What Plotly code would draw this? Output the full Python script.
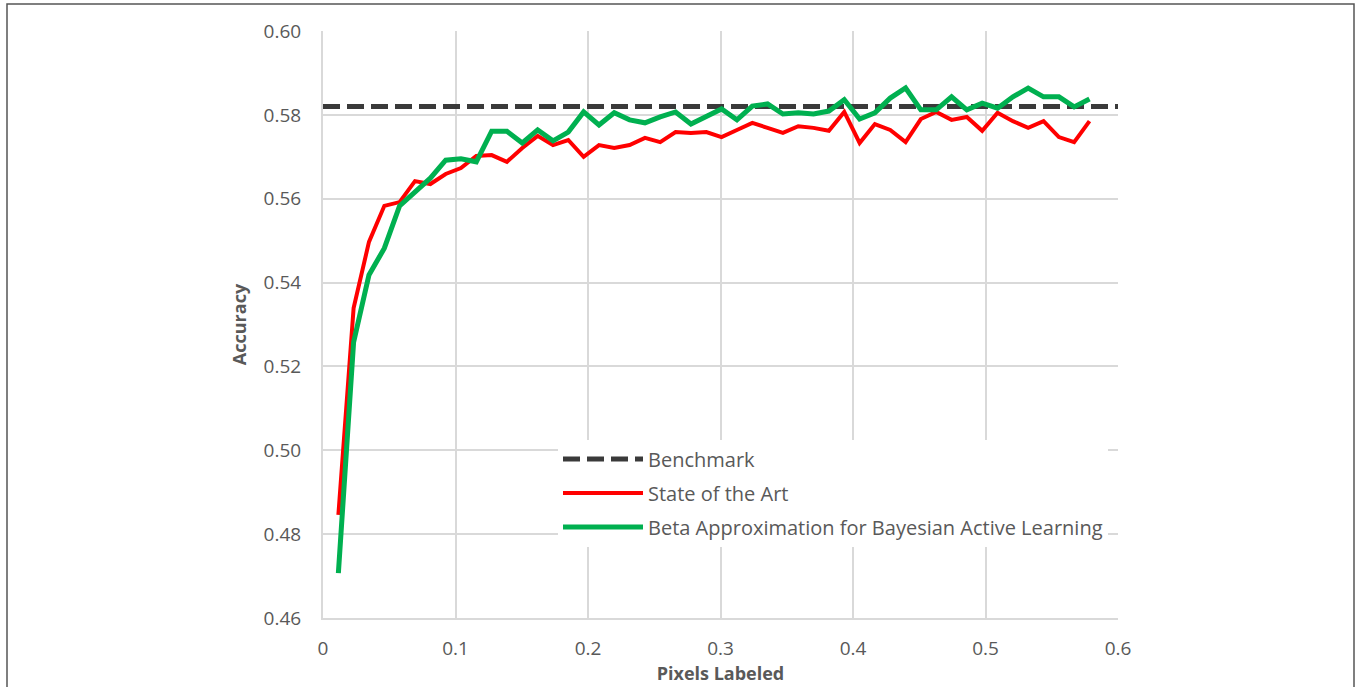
import plotly.graph_objects as go

# fraction of pixels labeled at each active-learning round
pixels_labeled = [round(0.01157 * k, 4) for k in range(1, 51)]

state_of_art = [
    0.4846, 0.5339, 0.5497, 0.5583, 0.5592, 0.5642, 0.5635, 0.5659, 0.5673, 0.5702,
    0.5704, 0.5688, 0.5721, 0.5750, 0.5728, 0.5740, 0.5700, 0.5728, 0.5721, 0.5728,
    0.5745, 0.5735, 0.5759, 0.5757, 0.5759, 0.5747, 0.5764, 0.5781, 0.5769, 0.5757,
    0.5773, 0.5769, 0.5762, 0.5807, 0.5733, 0.5778, 0.5764, 0.5735, 0.5790, 0.5807,
    0.5788, 0.5795, 0.5762, 0.5805, 0.5785, 0.5769, 0.5785, 0.5747, 0.5735, 0.5785,
]

beta_approx = [
    0.4707, 0.5258, 0.5418, 0.5482, 0.5583, 0.5618, 0.5649, 0.5692, 0.5695, 0.5688,
    0.5761, 0.5761, 0.5733, 0.5764, 0.5738, 0.5759, 0.5807, 0.5776, 0.5805, 0.5788,
    0.5781, 0.5795, 0.5807, 0.5778, 0.5795, 0.5814, 0.5788, 0.5821, 0.5826, 0.5802,
    0.5805, 0.5802, 0.5809, 0.5836, 0.5790, 0.5805, 0.5840, 0.5864, 0.5812, 0.5812,
    0.5843, 0.5812, 0.5828, 0.5816, 0.5843, 0.5864, 0.5843, 0.5843, 0.5819, 0.5838,
]

benchmark_x = [0.0, 0.6]
benchmark_y = [0.582, 0.582]

x_ticks = [0, 0.1, 0.2, 0.3, 0.4, 0.5, 0.6]
x_tick_labels = ["0", "0.1", "0.2", "0.3", "0.4", "0.5", "0.6"]
y_ticks = [0.46, 0.48, 0.50, 0.52, 0.54, 0.56, 0.58, 0.60]
y_tick_labels = ["0.46", "0.48", "0.50", "0.52", "0.54", "0.56", "0.58", "0.60"]

FONT = "Open Sans"
TEXT = "#595959"
GRID = "#d9d9d9"

fig = go.Figure()
fig.add_trace(go.Scatter(
    x=benchmark_x, y=benchmark_y, mode="lines", name="Benchmark",
    legendgroup="a",
    line=dict(color="#3a3a3a", width=5, dash="17px,7px"),
))
fig.add_trace(go.Scatter(
    x=pixels_labeled, y=state_of_art, mode="lines", name="State of the Art",
    legendgroup="b",
    line=dict(color="#ff0000", width=4),
))
fig.add_trace(go.Scatter(
    x=pixels_labeled, y=beta_approx, mode="lines",
    name="Beta Approximation for Bayesian Active Learning",
    legendgroup="c",
    line=dict(color="#00b050", width=5),
))

fig.update_layout(
    width=1360, height=687,
    margin=dict(l=323, r=242, t=31, b=69, autoexpand=False),
    paper_bgcolor="white", plot_bgcolor="white",
    font=dict(family=FONT, color=TEXT, size=18),
    showlegend=True,
    legend=dict(
        x=0.2956, y=0.304, xanchor="left", yanchor="top",
        bgcolor="white", borderwidth=0,
        font=dict(family=FONT, size=20, color=TEXT),
        itemwidth=80, tracegroupgap=5, traceorder="grouped",
    ),
    xaxis=dict(
        range=[0, 0.6], tickvals=x_ticks, ticktext=x_tick_labels,
        showgrid=True, gridcolor=GRID, gridwidth=2,
        showline=True, linecolor=GRID, linewidth=2,
        zeroline=False, ticks="", ticklabelstandoff=12,
        tickfont=dict(family=FONT, size=19, color=TEXT),
        title=dict(text="<b>Pixels Labeled</b>", standoff=8,
                   font=dict(family=FONT, size=18, color=TEXT)),
    ),
    yaxis=dict(
        range=[0.46, 0.60], tickvals=y_ticks, ticktext=y_tick_labels,
        showgrid=True, gridcolor=GRID, gridwidth=2,
        showline=True, linecolor=GRID, linewidth=2,
        zeroline=False, ticks="", ticklabelstandoff=16,
        tickfont=dict(family=FONT, size=19, color=TEXT),
        title=dict(text="<b>Accuracy</b>", standoff=12,
                   font=dict(family=FONT, size=18, color=TEXT)),
    ),
)

# thin frame around the figure
fig.add_shape(
    type="rect", xref="paper", yref="paper",
    x0=(7 - 323) / 795, x1=(1354 - 323) / 795,
    y0=-0.2, y1=(618 - 4) / 587,
    line=dict(color="#555555", width=1.5), fillcolor="rgba(0,0,0,0)",
    layer="below",
)

fig.write_html("out.html")
